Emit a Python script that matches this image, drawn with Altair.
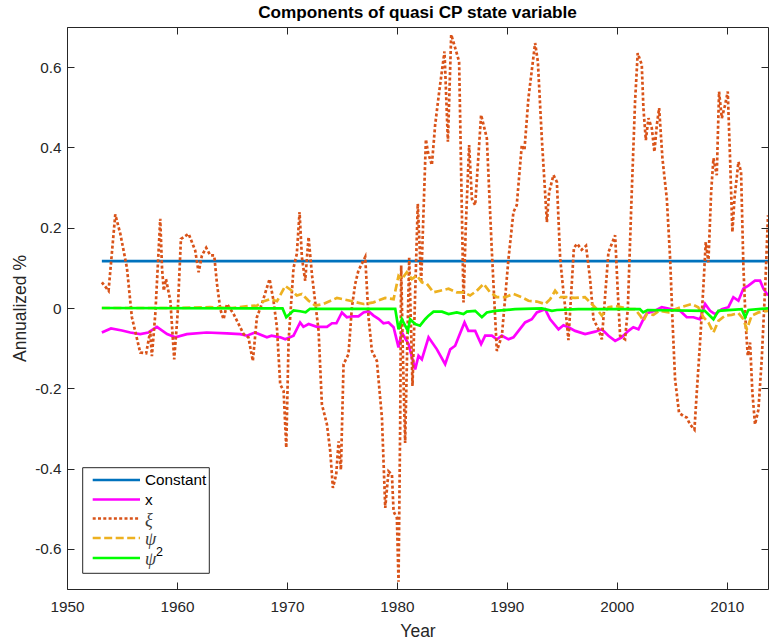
import altair as alt
import pandas as pd

# ---------------- data ----------------
const_year = [1953.17, 2013.75]
const_val = [0.117, 0.117]

x_year = [1953.17, 1954.0, 1955.0, 1955.75, 1956.66, 1957.4, 1958.18, 1959.1, 1959.85, 1960.9,
          1962.7, 1964.55, 1965.75, 1966.36, 1967.1, 1968.18, 1968.6, 1969.4, 1969.85, 1970.6,
          1971.2, 1971.5, 1971.97, 1972.73, 1973.64, 1974.1, 1974.5, 1975.0, 1975.45, 1975.9,
          1976.5, 1976.97, 1977.42, 1977.88, 1978.33, 1978.78, 1979.24, 1979.7, 1980.15, 1980.45,
          1981.06, 1981.66, 1981.97, 1982.27, 1982.88, 1983.64, 1984.39, 1984.85, 1985.3, 1985.66,
          1986.15, 1986.5, 1987.12, 1987.66, 1988.03, 1988.64, 1989.09, 1989.55, 1990.15, 1990.6,
          1991.06, 1991.66, 1992.27, 1992.73, 1993.48, 1993.94, 1994.7, 1995.15, 1995.6, 1996.21,
          1997.12, 1998.03, 1998.64, 1999.24, 1999.85, 2000.45, 2001.06, 2001.5, 2001.97, 2002.42,
          2002.73, 2003.48, 2004.09, 2005.0, 2005.75, 2006.36, 2006.97, 2007.57, 2008.03, 2008.48,
          2008.94, 2009.55, 2010.15, 2010.6, 2011.06, 2011.51, 2011.97, 2012.57, 2013.03, 2013.33,
          2013.75]
x_val = [-0.061, -0.051, -0.056, -0.061, -0.065, -0.061, -0.047, -0.065, -0.073, -0.065,
         -0.061, -0.063, -0.065, -0.069, -0.061, -0.073, -0.069, -0.073, -0.078, -0.069,
         -0.036, -0.047, -0.040, -0.047, -0.047, -0.038, -0.038, -0.011, -0.023, -0.021,
         -0.021, -0.011, -0.008, -0.019, -0.027, -0.038, -0.036, -0.048, -0.098, -0.061,
         -0.090, -0.153, -0.119, -0.128, -0.073, -0.103, -0.140, -0.103, -0.094, -0.069,
         -0.036, -0.057, -0.057, -0.090, -0.069, -0.069, -0.078, -0.069, -0.078, -0.073,
         -0.057, -0.036, -0.028, -0.011, -0.003, -0.028, -0.053, -0.043, -0.048, -0.057,
         -0.065, -0.059, -0.053, -0.069, -0.082, -0.073, -0.057, -0.048, -0.053, -0.028,
         -0.013, -0.007, 0.002, -0.003, -0.007, -0.023, -0.023, -0.028, 0.010, -0.007,
         -0.015, -0.003, 0.002, 0.027, 0.018, 0.048, 0.056, 0.068, 0.068, 0.048,
         0.031]

xi_year = [1953.17, 1953.78, 1954.39, 1954.85, 1955.45, 1955.9, 1956.66, 1957.2, 1957.57, 1957.72,
           1958.03, 1958.48, 1958.64, 1958.8, 1959.0, 1959.4, 1959.75, 1960.06, 1960.36, 1961.06,
           1961.66, 1961.97, 1962.27, 1962.66, 1963.03, 1963.39, 1963.64, 1963.94, 1964.24, 1964.55,
           1965.15, 1965.75, 1966.06, 1966.5, 1966.9, 1967.27, 1967.72, 1968.42, 1968.78, 1969.09,
           1969.39, 1969.7, 1969.94, 1970.15, 1970.6, 1970.9, 1971.15, 1971.36, 1971.66, 1971.97,
           1972.27, 1972.88, 1973.18, 1973.64, 1973.94, 1974.18, 1974.48, 1974.7, 1974.91, 1975.15,
           1975.6, 1975.91, 1976.21, 1976.5, 1977.12, 1977.42, 1977.73, 1978.18, 1978.64, 1978.94,
           1979.24, 1979.55, 1979.7, 1980.0, 1980.15, 1980.3, 1980.39, 1980.55, 1980.75, 1981.12,
           1981.42, 1981.9, 1982.21, 1982.64, 1982.82, 1983.18, 1983.48, 1983.85, 1984.33, 1984.64,
           1984.94, 1985.3, 1985.66, 1986.06, 1986.27, 1986.57, 1986.82, 1987.12, 1987.66, 1988.18,
           1988.64, 1989.09, 1989.55, 1990.15, 1990.6, 1990.9, 1991.36, 1991.6, 1991.96, 1992.57,
           1992.82, 1993.18, 1993.64, 1993.85, 1994.24, 1994.55, 1994.85, 1995.15, 1995.36, 1995.6,
           1996.1, 1996.4, 1996.8, 1997.2, 1997.57, 1997.88, 1998.33, 1998.64, 1998.94, 1999.24,
           1999.85, 2000.09, 2000.3, 2000.75, 2001.0, 2001.36, 2001.66, 2001.9, 2002.27, 2002.42,
           2002.64, 2002.88, 2003.18, 2003.42, 2003.64, 2003.85, 2004.15, 2004.55, 2004.85, 2005.06,
           2005.3, 2005.66, 2006.06, 2006.36, 2006.66, 2007.06, 2007.27, 2007.57, 2007.88, 2008.09,
           2008.33, 2008.58, 2008.79, 2009.09, 2009.3, 2009.55, 2009.85, 2010.09, 2010.3, 2010.51,
           2010.7, 2011.06, 2011.3, 2011.51, 2011.73, 2011.91, 2012.12, 2012.33, 2012.57, 2012.88,
           2013.18, 2013.54, 2013.75]
xi_val = [0.064, 0.043, 0.233, 0.185, 0.100, -0.023, -0.111, -0.113, -0.057, -0.120,
          -0.015, 0.222, 0.100, 0.043, 0.072, 0.018, -0.128, -0.015, 0.172, 0.185,
          0.143, 0.089, 0.131, 0.150, 0.131, 0.131, 0.060, -0.003, -0.028, 0.010,
          -0.015, -0.048, -0.065, -0.073, -0.132, -0.023, 0.010, 0.072, 0.018, -0.048,
          -0.190, -0.207, -0.348, -0.082, 0.100, 0.135, 0.239, 0.127, 0.068, 0.177,
          0.085, -0.057, -0.240, -0.290, -0.357, -0.448, -0.415, -0.332, -0.403, -0.140,
          -0.115, 0.002, 0.060, 0.093, 0.127, -0.023, -0.107, -0.132, -0.273, -0.498,
          -0.407, -0.415, -0.507, -0.523, -0.682, -0.290, 0.106, -0.120, -0.336, 0.125,
          -0.194, 0.260, 0.064, 0.420, 0.389, 0.356, 0.456, 0.539, 0.639, 0.414,
          0.681, 0.648, 0.614, 0.014, 0.206, 0.406, 0.272, 0.256, 0.481, 0.423,
          0.139, -0.107, -0.069, 0.123, 0.239, 0.256, 0.406, 0.393, 0.522, 0.660,
          0.614, 0.423, 0.214, 0.289, 0.331, 0.314, 0.123, 0.039, -0.011, -0.080,
          0.150, 0.160, 0.145, 0.155, 0.072, -0.028, -0.053, -0.078, 0.031, 0.139,
          0.181, 0.039, -0.069, -0.078, -0.003, 0.289, 0.514, 0.635, 0.606, 0.498,
          0.418, 0.473, 0.448, 0.389, 0.456, 0.498, 0.373, 0.272, 0.123, -0.028,
          -0.178, -0.261, -0.269, -0.273, -0.290, -0.303, -0.211, -0.086, 0.056, 0.164,
          0.114, 0.289, 0.373, 0.331, 0.539, 0.473, 0.506, 0.539, 0.373, 0.189,
          0.272, 0.364, 0.339, 0.106, -0.044, -0.119, -0.086, -0.211, -0.290, -0.253,
          -0.128, 0.081, 0.231]

psi_year = [1953.17, 1960.0, 1963.0, 1965.0, 1966.5, 1967.27, 1967.9, 1968.48, 1969.1, 1969.85,
            1970.45, 1970.9, 1971.36, 1971.97, 1972.58, 1973.33, 1974.55, 1975.75, 1976.97, 1977.88,
            1978.94, 1979.7, 1980.15, 1980.45, 1980.9, 1981.36, 1981.82, 1982.27, 1982.73, 1983.33,
            1983.94, 1984.7, 1985.45, 1986.06, 1986.66, 1987.27, 1987.88, 1988.48, 1989.09, 1989.85,
            1990.6, 1991.36, 1991.96, 1992.73, 1993.48, 1993.94, 1994.39, 1994.85, 1995.45, 1996.2,
            1997.1, 1997.73, 1998.18, 1998.64, 1999.24, 1999.85, 2000.45, 2001.06, 2001.66, 2002.12,
            2002.42, 2002.73, 2003.33, 2003.85, 2004.7, 2005.3, 2006.2, 2006.8, 2007.4, 2007.88,
            2008.33, 2008.79, 2009.24, 2009.85, 2010.45, 2011.06, 2011.51, 2011.82, 2012.27, 2012.88,
            2013.75]
psi_val = [0.0, 0.0, 0.002, 0.0, 0.005, 0.006, 0.017, 0.022, 0.017, 0.055,
           0.043, 0.031, 0.035, 0.018, 0.006, 0.010, 0.025, 0.018, 0.010, 0.014,
           0.025, 0.022, 0.080, 0.072, 0.089, 0.072, 0.081, 0.064, 0.060, 0.039,
           0.043, 0.048, 0.039, 0.039, 0.031, 0.043, 0.060, 0.039, 0.027, 0.027,
           0.035, 0.027, 0.018, 0.016, 0.010, 0.022, 0.043, 0.027, 0.027, 0.025,
           0.027, 0.010, -0.003, -0.019, 0.002, 0.005, 0.002, -0.003, -0.003, -0.019,
           -0.032, -0.015, -0.017, -0.007, -0.011, -0.003, 0.005, 0.010, 0.002, -0.023,
           -0.036, -0.061, -0.032, -0.019, -0.017, -0.013, -0.028, -0.053, -0.019, -0.011,
           -0.007]

psi2_year = [1953.17, 1969.6, 1969.94, 1970.6, 1971.2, 1971.7, 1972.1, 1979.85, 1980.15, 1980.45,
             1980.75, 1981.0, 1981.2, 1981.66, 1982.1, 1982.57, 1982.88, 1983.33, 1984.1, 1984.7,
             1985.45, 1986.06, 1986.36, 1987.12, 1987.73, 1988.18, 1988.94, 1990.75, 1993.18, 1994.1,
             1994.55, 1996.5, 2002.1, 2002.4, 2002.8, 2008.0, 2008.79, 2009.24, 2011.36, 2011.67,
             2011.97, 2013.75]
psi2_val = [0.0, -0.001, -0.023, -0.006, -0.008, -0.011, -0.002, -0.002, -0.053, -0.028,
            -0.044, -0.057, -0.028, -0.040, -0.044, -0.028, -0.019, -0.009, -0.009, -0.015,
            -0.011, -0.015, -0.009, -0.007, -0.023, -0.011, -0.007, -0.003, -0.001, -0.007,
            -0.005, -0.003, -0.003, -0.011, -0.005, -0.007, -0.028, -0.007, -0.003, -0.023,
            -0.005, -0.001]

x_ticks = [1950, 1960, 1970, 1980, 1990, 2000, 2010]
y_ticks = [-0.6, -0.4, -0.2, 0.0, 0.2, 0.4, 0.6]
series_names = ["Constant", "x", "\u03be", "\u03c8", "\u03c8"]

# ---------------- styling ----------------
W, H = 701, 562
AX = "#262626"
FONT = "Liberation Sans"
TICK = alt.ExprRef(expr="-7")

xscale = alt.Scale(domain=[1950, 2013.75], nice=False, zero=False)
yscale = alt.Scale(domain=[-0.7, 0.7], nice=False, zero=False)

ax_common = dict(tickSize=TICK, tickColor=AX, domainColor=AX, labelColor=AX,
                 tickWidth=1, domainWidth=1, grid=False, labelFont=FONT,
                 labelFontSize=15.3, titleFont=FONT, titleFontSize=17.5,
                 titleColor=AX, titleFontWeight="normal", labelFlush=False)

x_bottom = alt.Axis(orient="bottom", values=x_ticks, format="d", title="Year",
                    labelPadding=17, titlePadding=8, **ax_common)
y_left = alt.Axis(orient="left", values=y_ticks, title="Annualized %",
                  labelExpr="(datum.value < -0.0001 ? '-' : '') + (abs(datum.value) < 0.0001 ? '0' : format(abs(datum.value), '.1f'))",
                  labelPadding=13, titlePadding=5, **ax_common)
x_top = alt.Axis(orient="top", values=x_ticks, labels=False, title=None, **ax_common)
y_right = alt.Axis(orient="right", values=y_ticks, labels=False, title=None, **ax_common)


def frame(years, vals):
    return pd.DataFrame({"year": years, "value": vals})


def line(df, color, dash=None, xaxis=None, yaxis=None, width=2.7):
    kw = dict(color=color, strokeWidth=width, strokeCap="butt", strokeJoin="miter", clip=True)
    if dash is not None:
        kw["strokeDash"] = dash
    xenc = alt.X("year:Q", scale=xscale, axis=xaxis)
    yenc = alt.Y("value:Q", scale=yscale, axis=yaxis)
    return alt.Chart(df).mark_line(**kw).encode(x=xenc, y=yenc)


styles = [
    ("#0072BD", None),
    ("#FF00FF", None),
    ("#D95319", [3, 2.3]),
    ("#EDB120", [8, 3.5]),
    ("#00FF00", None),
]

l_const = line(frame(const_year, const_val), styles[0][0], styles[0][1], x_bottom, y_left)
l_x = line(frame(x_year, x_val), styles[1][0], styles[1][1], x_top, y_right)
l_xi = line(frame(xi_year, xi_val), styles[2][0], styles[2][1])
l_psi = line(frame(psi_year, psi_val), styles[3][0], styles[3][1])
l_psi2 = line(frame(psi2_year, psi2_val), styles[4][0], styles[4][1])

# ---------------- legend (box at lower left, in plot pixels) ----------------
one = pd.DataFrame({"k": [0]})
leg_box = alt.Chart(one).mark_rect(fill="white", stroke=AX, strokeWidth=1).encode(
    x=alt.value(15.7), x2=alt.value(142.3), y=alt.value(440.7), y2=alt.value(546.3))

row_y = [453, 472.5, 491.5, 511, 531]
leg_layers = [leg_box]
for i, (col, dash) in enumerate(styles):
    kw = dict(color=col, strokeWidth=2.7, strokeCap="butt")
    if dash is not None:
        kw["strokeDash"] = dash
    leg_layers.append(alt.Chart(one).mark_rule(**kw).encode(
        x=alt.value(25.7), x2=alt.value(73), y=alt.value(row_y[i])))
    is_greek = i >= 2
    leg_layers.append(alt.Chart(one).mark_text(
        text=series_names[i], align="left", baseline="middle",
        font="Liberation Serif" if is_greek else FONT,
        fontStyle="italic" if is_greek else "normal",
        fontSize=18 if is_greek else 15.3,
        color="#3a3a3a" if is_greek else "black").encode(
        x=alt.value(78), y=alt.value(row_y[i] + (2 if is_greek else 0))))
leg_layers.append(alt.Chart(one).mark_text(
    text="2", align="left", baseline="middle", font=FONT, fontSize=12.5,
    color="black").encode(x=alt.value(89), y=alt.value(row_y[4] - 6)))

chart = alt.layer(l_const, l_x, l_xi, l_psi, l_psi2, *leg_layers).properties(
    width=W, height=H,
    title=alt.TitleParams("Components of quasi CP state variable", font=FONT,
                          fontSize=17.2, fontWeight="bold", color="black",
                          anchor="middle", offset=5),
    autosize=alt.AutoSizeParams(type="none"),
    padding={"left": 67, "top": 27, "right": 2, "bottom": 51},
).configure_view(strokeWidth=0).configure(background="white")

chart.save("out.html", embed_options={"renderer": "svg", "actions": False})
